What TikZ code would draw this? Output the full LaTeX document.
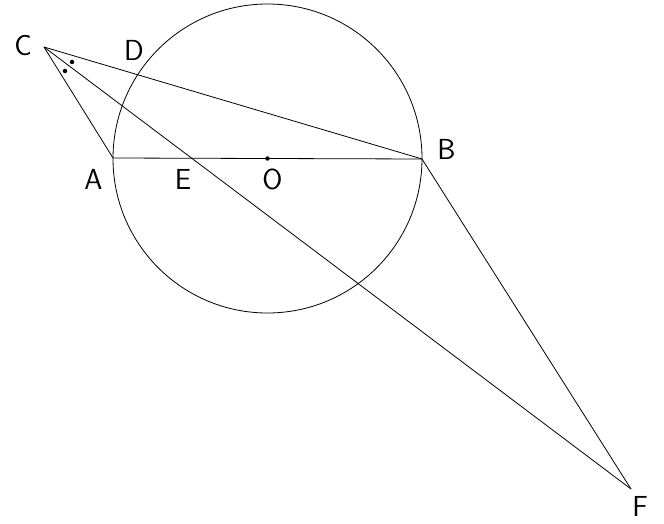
\documentclass[tikz,border=0pt]{standalone}
\begin{document}
\begin{tikzpicture}[x=1pt,y=-1pt,
  geo/.style={line width=0.8pt,black},
  lbl/.style={font=\fontsize{29}{29}\selectfont\sffamily,inner sep=0pt},
  pdot/.style={fill=black,circle,inner sep=0pt,minimum size=4.5pt}]
\useasboundingbox (0,0) rectangle (664,524);
\coordinate (C) at (44,47);
\coordinate (A) at (113,158);
\coordinate (B) at (422,159);
\coordinate (O) at (267.5,158.5);
\coordinate (F) at (631,489);
\draw[geo] (O) circle (154.5pt);
\draw[geo] (A) -- (B);
\draw[geo] (C) -- (A);
\draw[geo] (C) -- (B);
\draw[geo] (C) -- (F);
\draw[geo] (B) -- (F);
\node[pdot] (o) at (O) {};
\node[pdot] (d1) at (72,62) {};
\node[pdot] (d2) at (65,71) {};
\node[lbl] (lC) at (23,45.5) {C};
\node[lbl] (lD) at (134,50) {D};
\node[lbl] (lA) at (93.5,179.5) {A};
\node[lbl] (lE) at (183,179.5) {E};
\node[lbl] (lO) at (272.5,179.5) {O};
\node[lbl] (lB) at (446.5,149) {B};
\node[lbl] (lF) at (640,506) {F};
\end{tikzpicture}
\end{document}
